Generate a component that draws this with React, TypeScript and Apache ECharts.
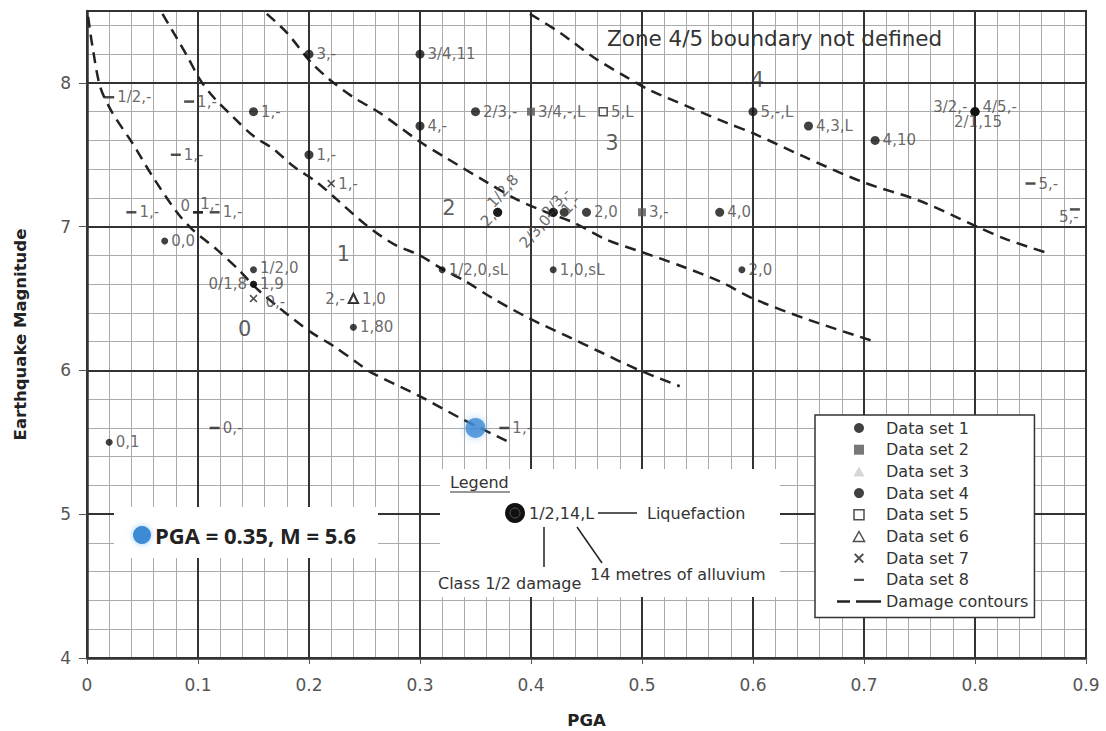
import React, { useEffect, useRef } from "react";
import * as echarts from "echarts";

type Pt = [number, number, string];

// Axis ticks
const xTicks = [0, 0.1, 0.2, 0.3, 0.4, 0.5, 0.6, 0.7, 0.8, 0.9];
const yTicks = [4, 5, 6, 7, 8];
const yTop = 8.5;

// Case-history points: [PGA, magnitude, "damage class, alluvium depth, liquefaction"]
const set1: Pt[] = [
  [0.2, 8.2, "3,-"],
  [0.3, 8.2, "3/4,11"],
  [0.15, 7.8, "1,-"],
  [0.2, 7.5, "1,-"],
  [0.3, 7.7, "4,-"],
  [0.35, 7.8, "2/3,-"],
  [0.6, 7.8, "5,-,L"],
  [0.65, 7.7, "4,3,L"],
  [0.71, 7.6, "4,10"],
  [0.8, 7.8, "4/5,-"],
  [0.8, 7.8, "3/2,-"],
  [0.8, 7.8, "2/1,15"],
  [0.37, 7.1, "1/2,8"],
  [0.37, 7.1, "2,"],
  [0.42, 7.1, "2/3,-"],
  [0.42, 7.1, "2/3,0"],
  [0.43, 7.1, "1,-"],
  [0.45, 7.1, "2,0"],
  [0.57, 7.1, "4,0"],
];
const set2: Pt[] = [
  [0.4, 7.8, "3/4,-,L"],
  [0.5, 7.1, "3,-"],
];
const set3: Pt[] = [];
const set4: Pt[] = [
  [0.02, 5.5, "0,1"],
  [0.07, 6.9, "0,0"],
  [0.15, 6.7, "1/2,0"],
  [0.15, 6.6, "1,9"],
  [0.15, 6.6, "0/1,8"],
  [0.24, 6.3, "1,80"],
  [0.32, 6.7, "1/2,0,sL"],
  [0.42, 6.7, "1,0,sL"],
  [0.59, 6.7, "2,0"],
];
const set5: Pt[] = [[0.465, 7.8, "5,L"]];
const set6: Pt[] = [
  [0.24, 6.5, "1,0"],
  [0.24, 6.5, "2,-"],
];
const set7: Pt[] = [
  [0.22, 7.3, "1,-"],
  [0.15, 6.5, "0,-"],
];
const set8: Pt[] = [
  [0.02, 7.9, "1/2,-"],
  [0.092, 7.87, "1,-"],
  [0.08, 7.5, "1,-"],
  [0.04, 7.1, "1,-"],
  [0.1, 7.1, "0"],
  [0.1, 7.1, "1,-"],
  [0.115, 7.1, "1,-"],
  [0.115, 5.6, "0,-"],
  [0.376, 5.6, "1,-"],
  [0.85, 7.3, "5,-"],
  [0.89, 7.12, "5,-"],
];

// Site under assessment
const sitePGA = 0.35;
const siteM = 5.6;

// Damage zone numbers: [label, PGA, magnitude]
const zones: [string, number, number][] = [
  ["0", 0.142, 6.29],
  ["1", 0.231, 6.81],
  ["2", 0.326, 7.13],
  ["3", 0.473, 7.58],
  ["4", 0.604, 8.02],
];

// Damage contours (zone boundaries)
const contour01: [number, number][] = [
  [0.001, 8.46], [0.005, 8.25], [0.012, 7.97], [0.023, 7.79], [0.041, 7.58],
  [0.059, 7.35], [0.081, 7.1], [0.095, 6.98], [0.117, 6.84], [0.138, 6.69],
  [0.15, 6.59], [0.174, 6.43], [0.201, 6.27], [0.222, 6.17], [0.244, 6.05],
  [0.255, 5.99], [0.3, 5.82], [0.336, 5.67], [0.378, 5.51],
];
const contour12: [number, number][] = [
  [0.068, 8.48], [0.09, 8.19], [0.102, 8.02], [0.114, 7.9], [0.132, 7.76],
  [0.15, 7.63], [0.168, 7.54], [0.186, 7.42], [0.207, 7.31], [0.225, 7.19],
  [0.25, 7.02], [0.276, 6.88], [0.3, 6.8], [0.319, 6.71], [0.341, 6.62],
  [0.366, 6.5], [0.399, 6.36], [0.432, 6.24], [0.462, 6.13], [0.495, 6.01],
  [0.534, 5.89],
];
const contour23: [number, number][] = [
  [0.162, 8.48], [0.18, 8.35], [0.201, 8.15], [0.219, 8.02], [0.24, 7.9],
  [0.264, 7.79], [0.3, 7.59], [0.321, 7.49], [0.36, 7.31], [0.387, 7.19],
  [0.414, 7.1], [0.438, 7.03], [0.468, 6.91], [0.501, 6.82], [0.534, 6.73],
  [0.57, 6.62], [0.6, 6.5], [0.651, 6.35], [0.71, 6.2],
];
const contour34: [number, number][] = [
  [0.399, 8.48], [0.426, 8.35], [0.456, 8.18], [0.486, 8.04], [0.507, 7.95],
  [0.543, 7.83], [0.577, 7.72], [0.6, 7.65], [0.645, 7.49], [0.699, 7.31],
  [0.75, 7.18], [0.802, 7.0], [0.829, 6.91], [0.868, 6.81],
];

const FONT = "DejaVu Sans";
const INK = "#333";

const crossPath =
  "path://M0,1.4L1.4,0L5,3.6L8.6,0L10,1.4L6.4,5L10,8.6L8.6,10L5,6.4L1.4,10L0,8.6L3.6,5Z";
// short bar inside a 10x10 box (corner specks keep the legend icon from stretching)
const dashIconPath = "path://M0,0L0.01,0L0,0.01Z M0,3.8H10V6.2H0Z M10,10L9.99,10L10,9.99Z";
const squarePath = "path://M0,0H10V10H0Z";
const trianglePath = "path://M5,0L10,9L0,9Z";
const contourIconPath = "path://M0,0H13V2.5H0Z M19,0H44V2.5H19Z";

// Label placement for points whose label is not simply to the right
const placement: Record<string, any> = {
  "0.8|7.8|3/2,-": { position: "left", offset: [0, -5] },
  "0.8|7.8|4/5,-": { offset: [0, -5] },
  "0.8|7.8|2/1,15": { position: "bottom", offset: [3, -4] },
  "0.37|7.1|1/2,8": { rotate: 48, offset: [-5, -16] },
  "0.37|7.1|2,": { position: "left", rotate: 48, offset: [1, 3] },
  "0.42|7.1|2/3,-": { rotate: 48, offset: [-13, -10] },
  "0.42|7.1|2/3,0": { position: "left", rotate: 48, offset: [-2, 5] },
  "0.43|7.1|1,-": { rotate: 48, offset: [-5, -6] },
  "0.15|6.7|1/2,0": { offset: [0, -2] },
  "0.15|6.6|0/1,8": { position: "left" },
  "0.15|6.5|0,-": { offset: [5, 3] },
  "0.24|6.5|2,-": { position: "left" },
  "0.1|7.1|0": { position: "left", offset: [0, -6] },
  "0.1|7.1|1,-": { position: "top", offset: [12, 2] },
  "0.89|7.12|5,-": { position: "bottom", offset: [-6, -3] },
};

function scatter(name: string, pts: Pt[], symbol: string, size: any, itemStyle: any) {
  return {
    type: "scatter",
    name,
    symbol,
    symbolSize: size,
    itemStyle,
    z: 4,
    label: {
      show: true,
      position: "right",
      distance: 3,
      formatter: "{b}",
      fontFamily: FONT,
      fontSize: 15,
      lineHeight: 13,
      color: "#444",
    },
    data: pts.map(([x, y, t]) => ({
      name: t,
      value: [x, y],
      label: placement[`${x}|${y}|${t}`],
    })),
  };
}

function contour(data: [number, number][]) {
  return {
    type: "line",
    name: "Damage contours",
    data,
    symbol: "none",
    smooth: 0.3,
    z: 3,
    itemStyle: { color: "#222" },
    lineStyle: { color: "#222", width: 2.5, type: [11, 7] },
  };
}

export default function App() {
  const ref = useRef<HTMLDivElement>(null);

  useEffect(() => {
    if (!ref.current) return;
    const chart = echarts.init(ref.current, undefined, { renderer: "svg" });

    const legendText = { fontFamily: FONT, fontSize: 16, fill: "#333", verticalAlign: "middle" };

    chart.setOption({
      animation: false,
      textStyle: { fontFamily: FONT },
      grid: {
        left: 87,
        right: 20,
        top: 11,
        bottom: 73,
        outerBoundsMode: "none",
        containLabel: false,
        show: true,
        borderColor: INK,
        borderWidth: 2,
        backgroundColor: "#fff",
      },
      xAxis: {
        type: "value",
        min: xTicks[0],
        max: xTicks[xTicks.length - 1],
        interval: 0.1,
        axisLine: { show: true, onZero: false, lineStyle: { color: INK, width: 2.5 } },
        axisTick: { show: true, length: 6, lineStyle: { color: "#555" } },
        axisLabel: { margin: 18, color: "#555", fontSize: 17, fontFamily: FONT },
        splitLine: { show: true, lineStyle: { color: INK, width: 2 } },
        minorTick: { show: false, splitNumber: 5 },
        minorSplitLine: { show: true, lineStyle: { color: "#aaa", width: 1 } },
        name: "PGA",
        nameLocation: "middle",
        nameGap: 54,
        nameTextStyle: { fontFamily: FONT, fontWeight: "bold", fontSize: 16.5, color: "#222" },
      },
      yAxis: [
        {
          type: "value",
          position: "left",
          min: yTicks[0],
          max: yTop,
          interval: 0.2,
          axisLine: { show: false },
          axisTick: { show: false },
          axisLabel: { show: false },
          splitLine: { show: true, lineStyle: { color: "#aaa", width: 1 } },
          z: 0,
        },
        {
          type: "value",
          position: "left",
          offset: 0,
          min: yTicks[0],
          max: yTop,
          interval: 1,
          z: 1,
          axisLine: { show: true, onZero: false, lineStyle: { color: INK, width: 2.5 } },
          axisTick: { show: true, length: 8, lineStyle: { color: "#555" } },
          axisLabel: {
            margin: 16,
            color: "#555",
            fontSize: 17,
            fontFamily: FONT,
            showMaxLabel: false,
            formatter: (v: number) => (yTicks.includes(v) ? String(v) : ""),
          },
          splitLine: { show: true, lineStyle: { color: INK, width: 2 } },
          name: "Earthquake Magnitude",
          nameLocation: "middle",
          nameGap: 58,
          nameTextStyle: { fontFamily: FONT, fontWeight: "bold", fontSize: 16.5, color: "#222" },
        },
      ],
      legend: {
        orient: "vertical",
        left: 815,
        top: 415,
        itemWidth: 44,
        itemHeight: 10,
        itemGap: 5.7,
        padding: [5, 6, 8, 22],
        backgroundColor: "#fff",
        borderColor: INK,
        borderWidth: 1.5,
        borderRadius: 0,
        selectedMode: false,
        symbolKeepAspect: true,
        textStyle: { fontFamily: FONT, fontSize: 16, color: "#333", lineHeight: 16 },
        data: [
          { name: "Data set 1" },
          { name: "Data set 2", icon: squarePath },
          { name: "Data set 3", icon: trianglePath },
          { name: "Data set 4" },
          { name: "Data set 5", icon: squarePath, itemStyle: { color: "#fff", borderColor: "#222", borderWidth: 1.5 } },
          { name: "Data set 6", icon: trianglePath, itemStyle: { color: "#fff", borderColor: "#222", borderWidth: 1.5 } },
          { name: "Data set 7", icon: crossPath },
          { name: "Data set 8", icon: dashIconPath },
          { name: "Damage contours", icon: contourIconPath, itemStyle: { color: "#222" } },
        ],
      },
      series: [
        contour(contour01),
        contour(contour12),
        contour(contour23),
        contour(contour34),
        scatter("Data set 1", set1, "circle", 9, { color: "#111" }),
        scatter("Data set 2", set2, "rect", 8, { color: "#555" }),
        scatter("Data set 3", set3, "triangle", 10, { color: "#ccc" }),
        scatter("Data set 4", set4, "circle", 7, { color: "#111" }),
        scatter("Data set 5", set5, "rect", 8, { color: "#fff", borderColor: "#222", borderWidth: 1.5 }),
        scatter("Data set 6", set6, "triangle", 9, { color: "#fff", borderColor: "#222", borderWidth: 2 }),
        scatter("Data set 7", set7, crossPath, 8, { color: "#222" }),
        scatter("Data set 8", set8, "rect", [10, 2.5], { color: "#222" }),
        {
          type: "scatter",
          name: "Zones",
          symbol: "circle",
          symbolSize: 1,
          itemStyle: { color: "rgba(0,0,0,0)" },
          z: 4,
          label: {
            show: true,
            position: "inside",
            formatter: "{b}",
            fontFamily: FONT,
            fontSize: 21,
            color: "#333",
          },
          data: zones.map(([t, x, y]) => ({ name: t, value: [x, y] })),
        },
        {
          type: "scatter",
          name: "Site",
          symbol: "circle",
          symbolSize: 20,
          z: 6,
          itemStyle: {
            color: "#3d8bd4",
            shadowBlur: 8,
            shadowColor: "rgba(90,160,235,0.6)",
          },
          data: [[sitePGA, siteM]],
        },
      ],
      graphic: [
        // site annotation
        { type: "rect", z: 5, shape: { x: 114, y: 507, width: 264, height: 51 }, style: { fill: "#fff" } },
        {
          type: "circle",
          z: 6,
          shape: { cx: 142, cy: 535, r: 9 },
          style: { fill: "#3d8bd4", shadowBlur: 6, shadowColor: "rgba(90,160,235,0.6)" },
        },
        {
          type: "text",
          z: 6,
          x: 155,
          y: 535,
          style: {
            text: `PGA = ${sitePGA}, M = ${siteM}`,
            fontFamily: "Open Sans",
            fontWeight: "bold",
            fontSize: 22,
            fill: "#222",
            verticalAlign: "middle",
          },
        },
        // key to the point labels
        { type: "rect", z: 5, shape: { x: 440, y: 469, width: 340, height: 128 }, style: { fill: "#fff" } },
        { type: "text", z: 6, x: 450, y: 482, style: { ...legendText, text: "Legend" } },
        { type: "line", z: 6, shape: { x1: 450, y1: 492, x2: 510, y2: 492 }, style: { stroke: "#333", lineWidth: 1 } },
        { type: "circle", z: 6, shape: { cx: 515, cy: 513, r: 10 }, style: { fill: "#111" } },
        { type: "circle", z: 6, shape: { cx: 515, cy: 513, r: 5 }, style: { fill: "none", stroke: "#555", lineWidth: 1 } },
        { type: "text", z: 6, x: 529, y: 513, style: { ...legendText, text: "1/2,14,L" } },
        { type: "line", z: 6, shape: { x1: 598, y1: 513, x2: 637, y2: 513 }, style: { stroke: "#222", lineWidth: 1.5 } },
        { type: "text", z: 6, x: 647, y: 513, style: { ...legendText, text: "Liquefaction" } },
        { type: "line", z: 6, shape: { x1: 544, y1: 527, x2: 544, y2: 567 }, style: { stroke: "#222", lineWidth: 1.5 } },
        { type: "line", z: 6, shape: { x1: 577, y1: 527, x2: 602, y2: 563 }, style: { stroke: "#222", lineWidth: 1.5 } },
        { type: "text", z: 6, x: 438, y: 583, style: { ...legendText, text: "Class 1/2 damage" } },
        { type: "text", z: 6, x: 590, y: 574, style: { ...legendText, text: "14 metres of alluvium" } },
        // note at top of plot
        {
          type: "text",
          z: 6,
          x: 607,
          y: 38,
          style: {
            text: "Zone 4/5 boundary not defined",
            fontFamily: FONT,
            fontSize: 21.5,
            fill: "#333",
            verticalAlign: "middle",
          },
        },
      ],
    });

    return () => chart.dispose();
  }, []);

  return (
    <div
      ref={ref}
      style={{ position: "fixed", left: 0, top: 0, width: 1106, height: 731, background: "#fff" }}
    />
  );
}
